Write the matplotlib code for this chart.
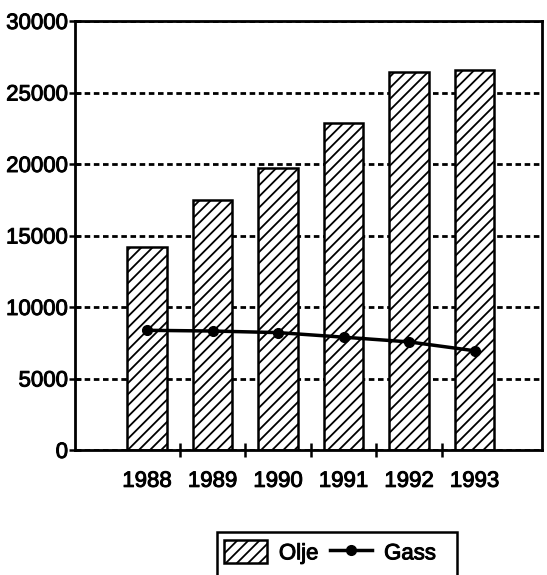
import matplotlib
matplotlib.use("Agg")
import matplotlib.pyplot as plt
import matplotlib.patheffects as pe
from matplotlib.patches import Rectangle
import numpy as np

years = ["1988", "1989", "1990", "1991", "1992", "1993"]
olje = [14200, 17500, 19700, 22900, 26450, 26600]
gass = [8370, 8320, 8210, 7890, 7560, 6940]
yticks = [0, 5000, 10000, 15000, 20000, 25000, 30000]

plt.rcParams['font.family'] = ['Liberation Sans', 'DejaVu Sans']
plt.rcParams['hatch.linewidth'] = 1.3
plt.rcParams['hatch.color'] = 'black'

W, H = 547, 575
FS = 16
thick = [pe.withStroke(linewidth=0.7, foreground='black')]
fig = plt.figure(figsize=(W / 100, H / 100), dpi=100)
ax = fig.add_axes([75 / W, 1 - 450 / H, (542 - 75) / W, (450 - 21) / H])

x = np.arange(len(years))
ax.set_axisbelow(True)
ax.yaxis.grid(True, color='black', linewidth=2.0, linestyle=(0, (2.0, 1.3)))
bars = ax.bar(x, olje, width=0.6, color='white', edgecolor='black',
              linewidth=1.8, hatch='///', label='Olje', zorder=2)
ax.plot(x, gass, color='black', linewidth=2.5, marker='o', markersize=7,
        label='Gass', zorder=3)

ax.set_ylim(0, 30000)
ax.set_xlim(-1.1, 6.03)
ax.set_yticks(yticks)
ax.set_yticklabels([str(v) for v in yticks], fontsize=FS)
ax.set_xticks(x)
ax.set_xticklabels(years, fontsize=FS)
ax.tick_params(axis='x', which='major', length=0, pad=15)
ax.set_xticks(x[:-1] + 0.5, minor=True)
ax.tick_params(axis='x', which='minor', direction='inout', length=10, width=1.8)
ax.tick_params(axis='y', direction='inout', length=8, width=1.8, pad=1)
for s in ax.spines.values():
    s.set_linewidth(2.0)
    s.set_color('black')
for t in ax.get_xticklabels() + ax.get_yticklabels():
    t.set_path_effects(thick)

leg = fig.legend(handles=[bars, ax.lines[0]], labels=['Olje', 'Gass'],
                 loc='upper left', bbox_to_anchor=(220 / W, 1 - 536 / H),
                 ncol=2, frameon=False, fontsize=FS, handlelength=1.9,
                 handleheight=1.2, handletextpad=0.55, columnspacing=0.5,
                 borderaxespad=0, borderpad=0.2)
for t in leg.get_texts():
    t.set_path_effects(thick)
fig.patches.append(Rectangle((217 / W, -0.02), (457 - 217) / W, (575 - 532) / H + 0.02,
                             transform=fig.transFigure, fill=False,
                             edgecolor='black', linewidth=1.8))

fig.savefig("out.png", dpi=100)
